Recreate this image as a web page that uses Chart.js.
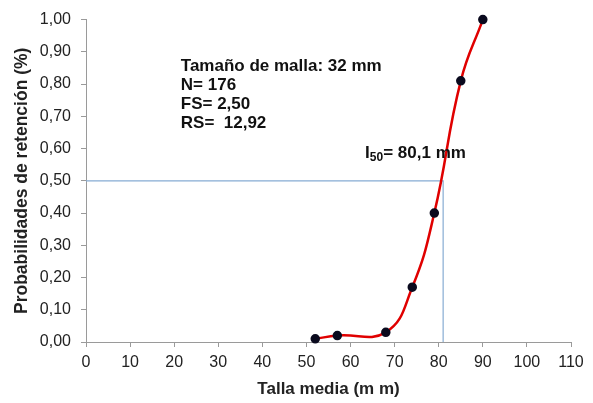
<!DOCTYPE html>
<html>
<head>
<meta charset="utf-8">
<script src="https://cdn.jsdelivr.net/npm/chart.js@4"></script>
<style>
  html, body { margin: 0; padding: 0; background: #fff; }
  #wrap { width: 593px; height: 403px; }
</style>
</head>
<body>
<div id="wrap"><canvas id="chart" width="593" height="403"></canvas></div>
<script>
// Talla media (mm) and retention probability
const tallas = [52, 57, 68, 74, 79, 85, 90];
const probs = [0.01, 0.02, 0.03, 0.17, 0.40, 0.81, 1.00];

// L50 guide line
const guideX = [0, 81, 81];
const guideY = [0.5, 0.5, 0];

const infoLines = ['Tamaño de malla: 32 mm', 'N= 176', 'FS= 2,50', 'RS=  12,92'];

const FONT = '"Liberation Sans", Arial, sans-serif';
const ctx = document.getElementById('chart').getContext('2d');

// writes the text block and the L50 label
const labelsPlugin = {
    id: 'labels',
    afterDatasetsDraw(chart) {
        const c = chart.ctx;
        const xs = chart.scales.x, ys = chart.scales.y;
        c.save();
        c.fillStyle = '#111';
        c.font = 'bold 17px ' + FONT;
        c.textBaseline = 'middle';
        const x0 = xs.getPixelForValue(21.5);
        const y0 = ys.getPixelForValue(0.855);
        infoLines.forEach((t, i) => c.fillText(t, x0, y0 + i * 19));
        // I50 label with subscript
        const lx = xs.getPixelForValue(63.3);
        const ly = ys.getPixelForValue(0.586);
        c.fillText('I', lx, ly);
        let w = c.measureText('I').width;
        c.font = 'bold 12px ' + FONT;
        c.fillText('50', lx + w, ly + 5);
        w += c.measureText('50').width;
        c.font = 'bold 17px ' + FONT;
        c.fillText('= 80,1 mm', lx + w, ly);
        c.restore();
    }
};

new Chart(ctx, {
    type: 'scatter',
    data: {
        datasets: [{
            label: 'Probabilidad',
            data: tallas.map((t, i) => ({ x: t, y: probs[i] })),
            showLine: true,
            clip: false,
            borderColor: '#e00000',
            borderWidth: 2.5,
            tension: 0.45,
            pointRadius: 3.5,
            pointBackgroundColor: '#0a0a1e',
            pointBorderColor: '#0a0a1e',
            order: 0
        }, {
            label: 'L50',
            data: guideX.map((g, i) => ({ x: g, y: guideY[i] })),
            showLine: true,
            borderColor: '#86acd3',
            borderWidth: 1.2,
            pointRadius: 0,
            tension: 0,
            order: 1
        }]
    },
    options: {
        responsive: false,
        animation: false,
        layout: { padding: { top: 6, right: 22, left: 12, bottom: 3 } },
        plugins: {
            legend: { display: false },
            tooltip: { enabled: false }
        },
        scales: {
            x: {
                type: 'linear',
                min: 0,
                max: 110,
                afterFit: s => { s.height = 58; },
                border: { color: '#9a9a9a', width: 1 },
                grid: { drawOnChartArea: false, drawTicks: true, tickLength: 5, color: '#9a9a9a' },
                ticks: {
                    stepSize: 10,
                    color: '#222',
                    font: { family: FONT, size: 16 },
                    padding: 6
                },
                title: {
                    display: true,
                    text: 'Talla media (m m)',
                    color: '#222',
                    font: { family: FONT, size: 17, weight: 'bold' },
                    padding: { top: 5, bottom: 0 }
                }
            },
            y: {
                min: 0,
                max: 1,
                afterFit: s => { s.width = 74; },
                border: { color: '#9a9a9a', width: 1 },
                grid: { drawOnChartArea: false, drawTicks: true, tickLength: 5, color: '#9a9a9a' },
                ticks: {
                    stepSize: 0.1,
                    color: '#222',
                    font: { family: FONT, size: 16 },
                    padding: 10,
                    callback: v => v.toFixed(2).replace('.', ',')
                },
                title: {
                    display: true,
                    text: 'Probabilidades de retención (%)',
                    color: '#222',
                    font: { family: FONT, size: 17.5, weight: 'bold' },
                    padding: { top: 0, bottom: 5 }
                }
            }
        }
    },
    plugins: [labelsPlugin]
});
</script>
</body>
</html>
